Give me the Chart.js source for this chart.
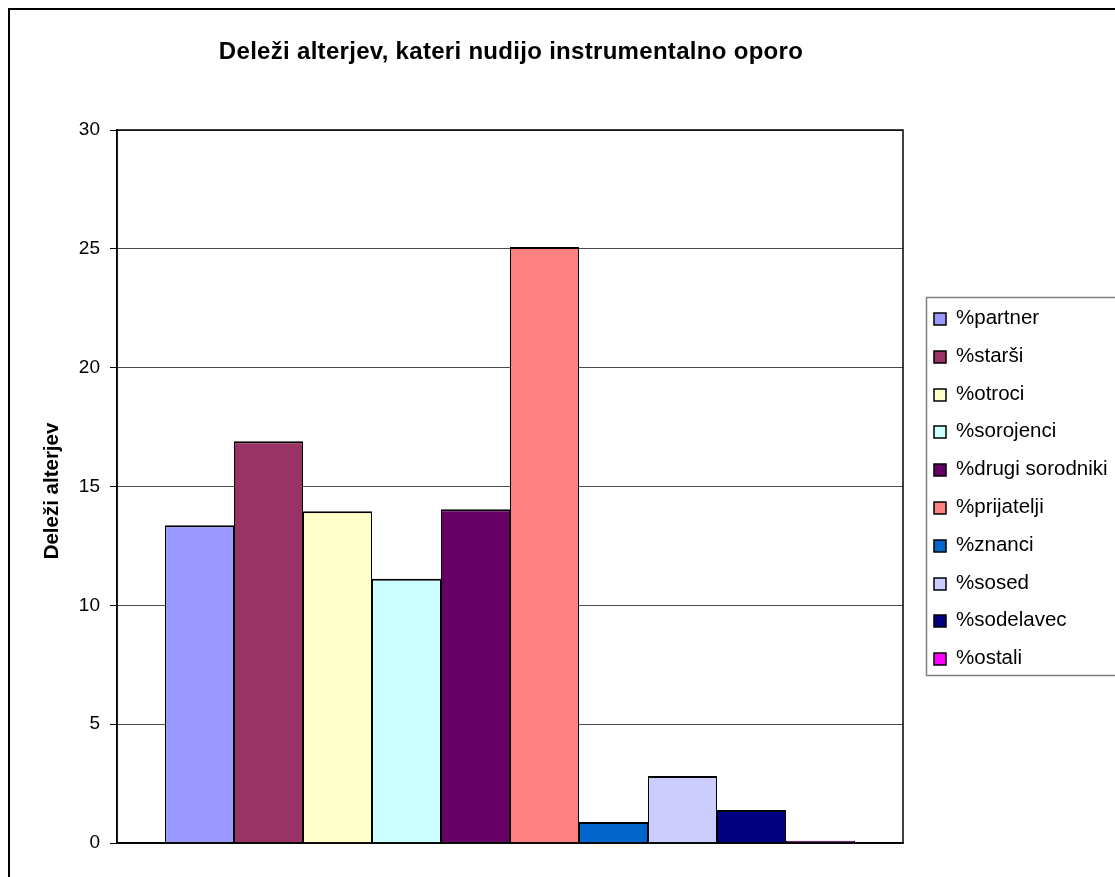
<!DOCTYPE html>
<html lang="sl">
<head>
<meta charset="utf-8">
<title>Deleži alterjev, kateri nudijo instrumentalno oporo</title>
<script src="https://cdn.jsdelivr.net/npm/chart.js@4/dist/chart.umd.min.js"></script>
<style>
  html, body { margin: 0; padding: 0; background: #ffffff; }
  #wrap { width: 1115px; height: 877px; }
</style>
</head>
<body>
<div id="wrap"><canvas id="chart" width="1115" height="877"></canvas></div>
<script>
// Chart text
const chartTitle = 'Deleži alterjev, kateri nudijo instrumentalno oporo';
const axisTitle = 'Deleži alterjev';

// One series per type of alter, all in a single category
const seriesNames = ['%partner', '%starši', '%otroci', '%sorojenci', '%drugi sorodniki',
                     '%prijatelji', '%znanci', '%sosed', '%sodelavec', '%ostali'];
const seriesValues = [13.37, 16.9, 13.96, 11.12, 14.04, 25.08, 0.88, 2.82, 1.39, 0.09];
const seriesColors = ['#9999FF', '#993366', '#FFFFCC', '#CCFFFF', '#660066',
                      '#FF8080', '#0066CC', '#CCCCFF', '#000080', '#FF00FF'];

// Value axis ticks
const yTicks = [0, 5, 10, 15, 20, 25, 30];

const FONT = '"Liberation Sans", Arial, sans-serif';

// 10 bars of 69px each inside a 786px wide plot
const datasets = seriesNames.map((name, i) => ({
  label: name,
  data: [seriesValues[i]],
  backgroundColor: seriesColors[i],
  borderColor: '#000000',
  borderWidth: { top: 2, left: 1, right: 1, bottom: 0 },
  borderSkipped: false,
  categoryPercentage: 690 / 786,
  barPercentage: 1.0
}));

// Frame, title, axis title, plot border and legend panel
const decor = {
  id: 'decor',
  afterDraw(chart) {
    const ctx = chart.ctx;
    const a = chart.chartArea;
    ctx.save();

    // outer chart frame
    ctx.strokeStyle = '#000000';
    ctx.lineWidth = 2;
    ctx.strokeRect(9, 9, 1120, 880);

    // plot area border
    ctx.lineWidth = 1.5;
    ctx.strokeRect(a.left, a.top, a.right - a.left, a.bottom - a.top);

    // title
    ctx.fillStyle = '#000000';
    ctx.font = 'bold 24px ' + FONT;
    ctx.textAlign = 'center';
    ctx.textBaseline = 'middle';
    ctx.letterSpacing = '0.3px';
    ctx.fillText(chartTitle, 511, 52);
    ctx.letterSpacing = '0px';

    // value axis title
    ctx.save();
    ctx.translate(52, 491);
    ctx.rotate(-Math.PI / 2);
    ctx.font = 'bold 20.5px ' + FONT;
    ctx.fillText(axisTitle, 0, 0);
    ctx.restore();

    // legend panel
    ctx.strokeStyle = '#808080';
    ctx.lineWidth = 1.5;
    ctx.strokeRect(926.5, 297.5, 220, 378);
    ctx.font = '20.5px ' + FONT;
    ctx.textAlign = 'left';
    ctx.textBaseline = 'middle';
    chart.data.datasets.forEach((ds, i) => {
      const cy = Math.round(319 + i * 37.8);
      ctx.fillStyle = ds.backgroundColor;
      ctx.fillRect(934, cy - 6, 12, 12);
      ctx.strokeStyle = '#000000';
      ctx.lineWidth = 1.5;
      ctx.strokeRect(934, cy - 6, 12, 12);
      ctx.fillStyle = '#000000';
      ctx.fillText(ds.label, 956, cy - 1);
    });

    ctx.restore();
  }
};

new Chart(document.getElementById('chart'), {
  type: 'bar',
  data: { labels: [''], datasets },
  options: {
    responsive: false,
    animation: false,
    devicePixelRatio: 1,
    layout: { padding: { left: 0, top: 130, right: 212, bottom: 34 } },
    plugins: {
      legend: { display: false },
      title: { display: false },
      tooltip: { enabled: false }
    },
    scales: {
      x: {
        type: 'category',
        offset: true,
        ticks: { display: false },
        grid: { display: false, drawTicks: false },
        border: { display: true, color: '#000000', width: 1.5 },
        afterFit(s) { s.height = 0; }
      },
      y: {
        min: yTicks[0],
        max: yTicks[yTicks.length - 1],
        afterBuildTicks(s) { s.ticks = yTicks.map(v => ({ value: v })); },
        ticks: {
          color: '#000000',
          padding: 10,
          font: { family: FONT, size: 19 }
        },
        grid: {
          color: '#4a4a4a',
          lineWidth: 1,
          tickLength: 7,
          tickColor: '#000000',
          tickWidth: 1
        },
        border: { display: true, color: '#000000', width: 1.5 },
        afterFit(s) { s.width = 117; }
      }
    }
  },
  plugins: [decor]
});
</script>
</body>
</html>
